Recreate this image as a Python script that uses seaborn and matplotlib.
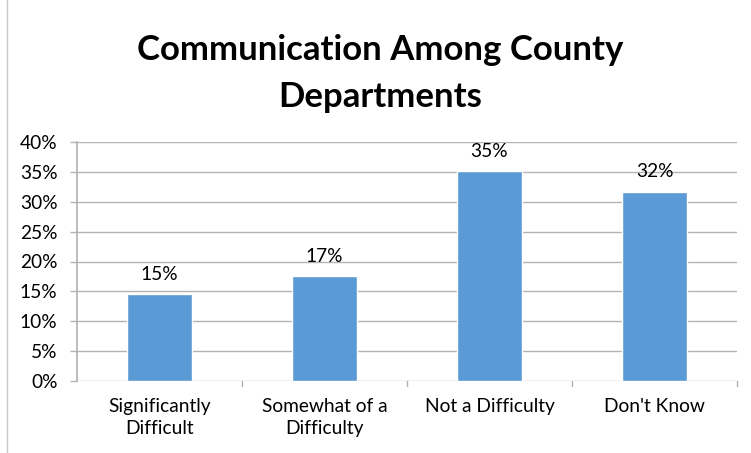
import matplotlib
matplotlib.use("Agg")
import matplotlib.pyplot as plt
import seaborn as sns
import pandas as pd
from matplotlib.ticker import PercentFormatter, FixedLocator
from matplotlib.lines import Line2D

categories = ["Significantly\nDifficult", "Somewhat of a\nDifficulty", "Not a Difficulty", "Don't Know"]
values = [14.6, 17.5, 35.2, 31.7]
labels = ["15%", "17%", "35%", "32%"]
title = "Communication Among County\nDepartments"

sns.set_theme(style="white")
plt.rcParams["font.family"] = ["Lato", "DejaVu Sans"]

df = pd.DataFrame({"category": categories, "value": values})

fig = plt.figure(figsize=(7.51, 4.53), dpi=100)
ax = fig.add_axes([77 / 751, 72 / 453, 660 / 751, 239 / 453])

sns.barplot(data=df, x="category", y="value", color="#5B9BD5", width=0.39,
            saturation=1, ax=ax, zorder=3)

ax.set_ylim(0, 40)
ax.set_xlim(-0.5, 3.5)
ax.yaxis.set_major_locator(FixedLocator(range(0, 41, 5)))
ax.yaxis.set_major_formatter(PercentFormatter(decimals=0))
ax.grid(axis="y", color="#B3B3B3", linewidth=1, zorder=0)
ax.set_axisbelow(True)

for side in ["top", "right", "bottom"]:
    ax.spines[side].set_visible(False)
ax.spines["left"].set_color("#B3B3B3")
ax.spines["left"].set_zorder(1)

ax.set_xticks(range(4))
ax.tick_params(axis="x", length=0, pad=12, labelsize=13.8, colors="black")
ax.tick_params(axis="y", length=5, width=1, color="#B3B3B3", labelsize=13.8,
               colors="black", pad=9, left=True)
for t in ax.get_xticklabels():
    t.set_linespacing(1.35)

# Category boundary ticks along the baseline
for xb in [0.5, 1.5, 2.5, 3.5]:
    ax.plot([xb, xb], [0, -0.9], color="#B3B3B3", lw=1, clip_on=False, zorder=2)
ax.set_xlabel("")
ax.set_ylabel("")

for i, (v, lab) in enumerate(zip(values, labels)):
    ax.annotate(lab, (i, v), xytext=(0, 8), textcoords="offset points",
                ha="center", va="bottom", fontsize=13.8, color="black")

fig.text(0.506, 0.838, title, ha="center", va="center", fontsize=25,
         fontweight="bold", color="black", linespacing=1.55)

# Chart area border on the left edge
fig.add_artist(Line2D([7 / 751, 7 / 751], [0, 1], color="#C8C8C8", lw=1,
                      transform=fig.transFigure))

fig.savefig("out.png", dpi=100)
